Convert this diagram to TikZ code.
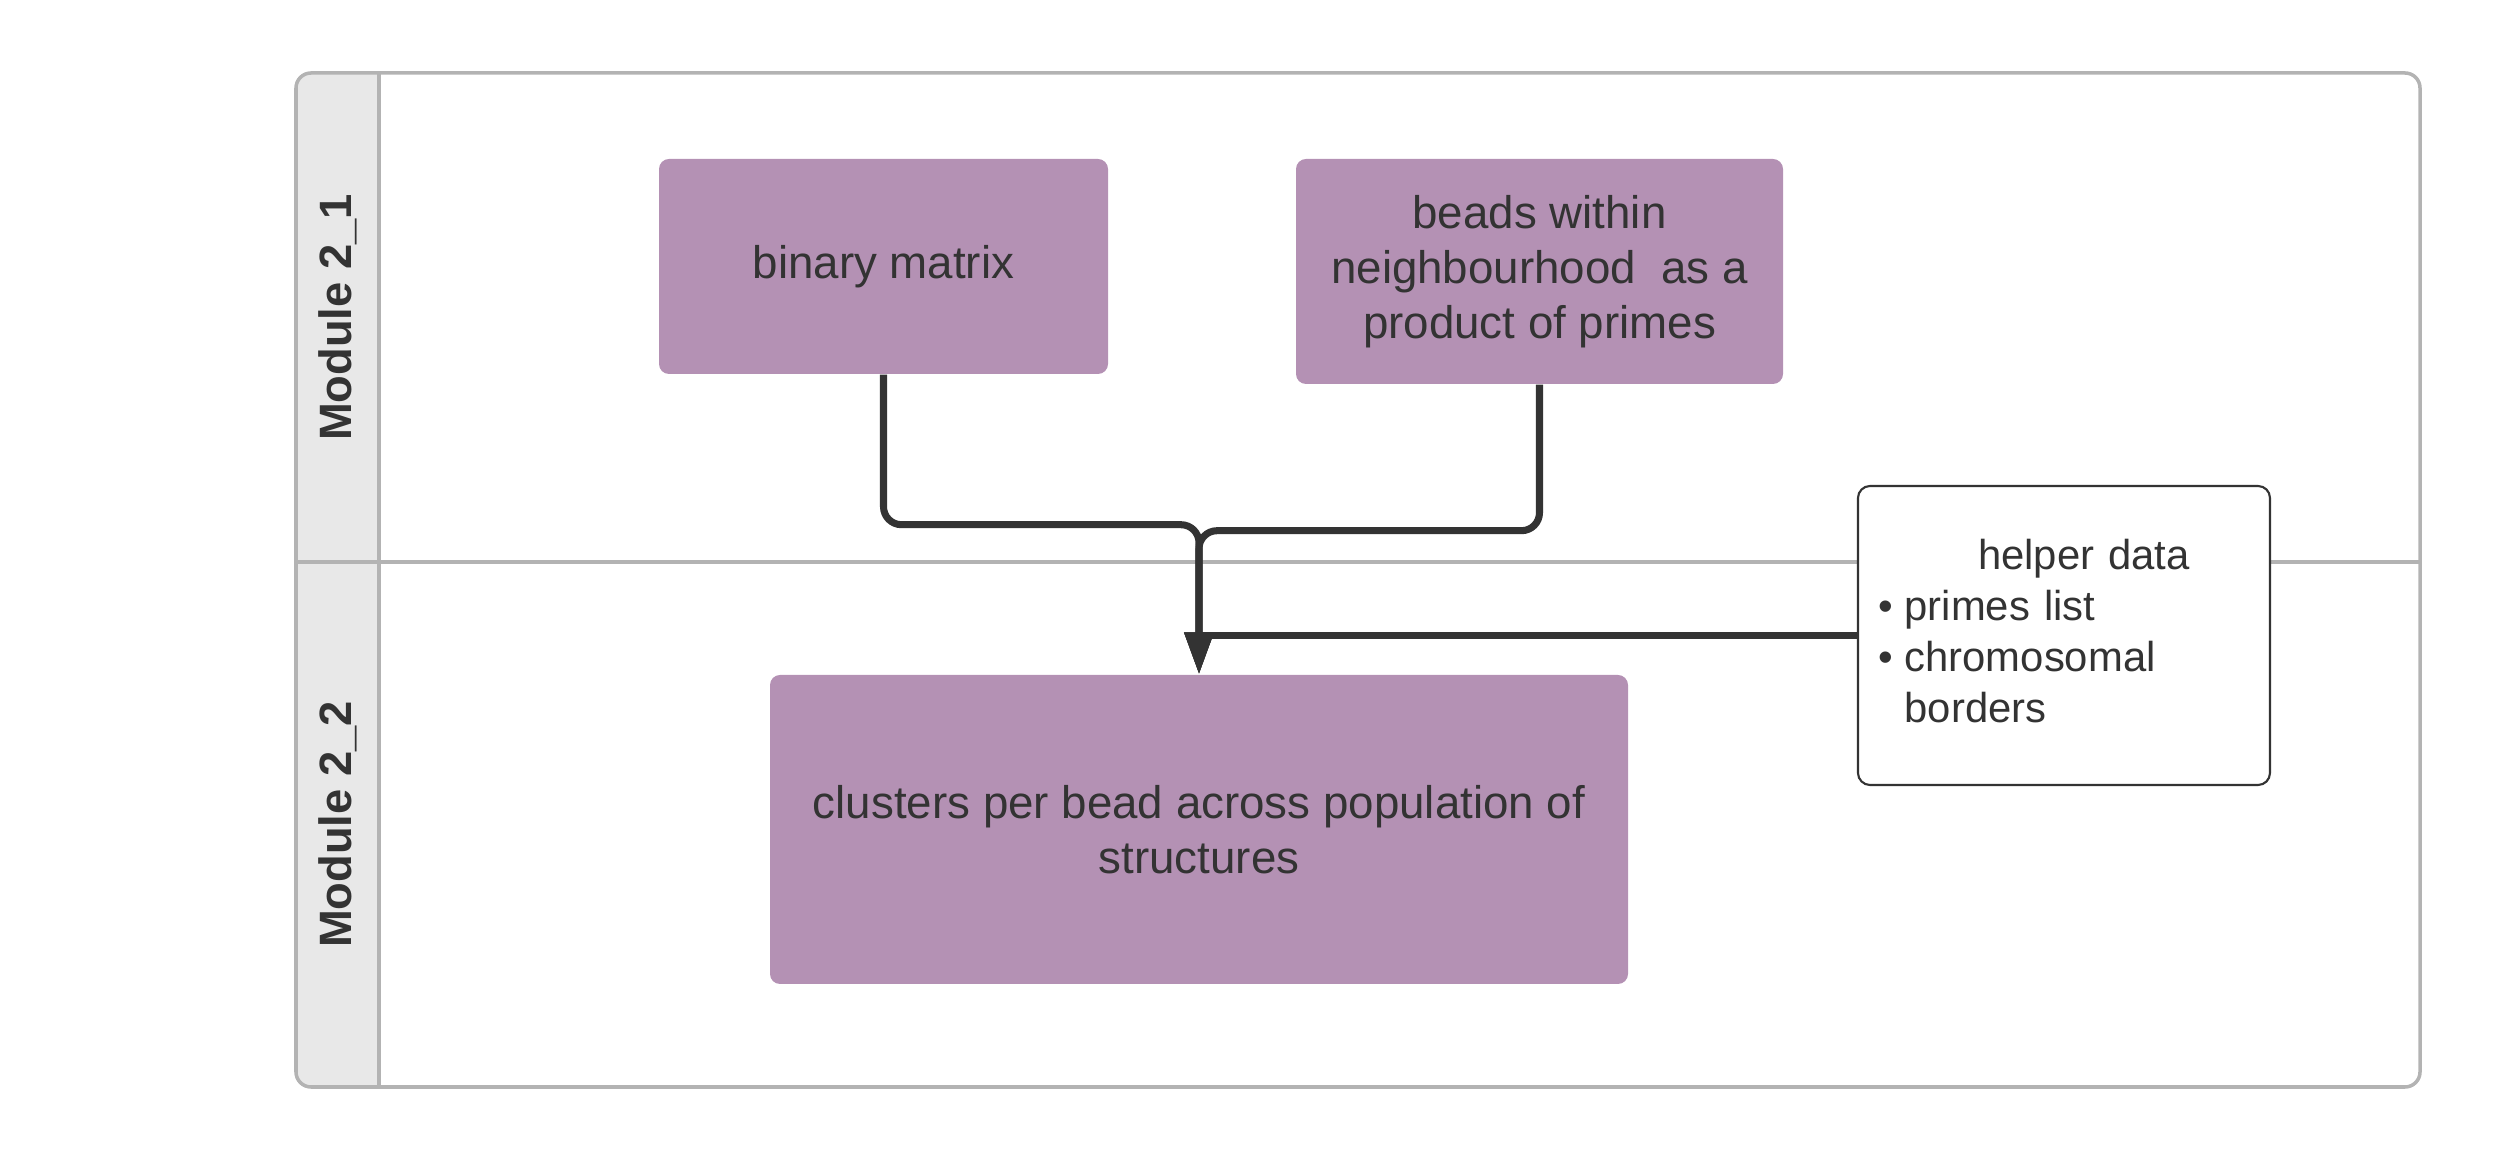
\documentclass[tikz,border=0pt]{standalone}
\usepackage{fontspec}
\setmainfont{Liberation Sans}
\usetikzlibrary{arrows.meta}
\definecolor{boxpurple}{HTML}{B491B4}
\definecolor{textgray}{HTML}{333333}
\definecolor{framegray}{HTML}{B3B3B3}
\definecolor{headgray}{HTML}{E8E8E8}

\begin{document}
\begin{tikzpicture}
        \tikzset{process/.style = {shape=rectangle,fill=boxpurple,rounded corners=0.1cm,text=textgray,align=center,inner sep=0pt,font=\fontsize{13}{15.6}\selectfont}};
        \tikzset{helper/.style = {shape=rectangle,draw=textgray,line width=0.6pt,fill=white,rounded corners=0.12cm,text=textgray,inner sep=0pt,minimum width=4.12cm,minimum height=2.99cm,text width=3.72cm,align=left,font=\fontsize{11.9}{14.5}\selectfont}};
        \tikzset{lane/.style = {rotate=90,text=textgray,font=\bfseries\fontsize{12.9}{15}\selectfont}};
        \tikzset{frame/.style = {draw=framegray,line width=1pt}};
        \tikzset{edge/.style = {draw=textgray,line width=2pt,rounded corners=0.18cm,-{Triangle[length=0.42cm,width=0.28cm]}}};
        \useasboundingbox (0,0) rectangle (24.96,11.63);
        % swimlanes
        \begin{scope}
        \clip[rounded corners=0.15cm] (2.96,0.76) rectangle (24.20,10.90);
        \fill[headgray] (2.96,0.76) rectangle (3.79,10.90);
        \end{scope}
        \draw[frame] (3.79,0.76) -- (3.79,10.90);
        \draw[frame] (2.96,6.01) -- (24.20,6.01);
        \draw[frame,rounded corners=0.15cm] (2.96,0.76) rectangle (24.20,10.90);
        \node[lane] (lane1) at (3.375,8.455) {Module 2\_1};
        \node[lane] (lane2) at (3.375,3.385) {Module 2\_2};
        % boxes
        \node[process,minimum width=4.49cm,minimum height=2.15cm] (bm) at (8.835,8.965) {binary matrix};
        \node[process,minimum width=4.87cm,minimum height=2.25cm] (beads) at (15.395,8.915) {beads within\\neighbourhood~ as a\\product of primes};
        \node[process,minimum width=8.58cm,minimum height=3.09cm] (clusters) at (11.99,3.335) {clusters per bead across population of\\structures};
        \node[helper] (helper) at (20.64,5.275) {\begin{tabular}{@{}l@{\hspace{0.12cm}}l@{}}
            \multicolumn{2}{@{}l@{}}{\hspace{1.0cm}helper data}\\
            \textbullet & primes list\\
            \textbullet & chromosomal\\
            & borders
            \end{tabular}};
        % connectors
        \draw[edge] (bm.south) -- ++(0,-1.5) -| (clusters.north);
        \draw[edge] (beads.south) -- ++(0,-1.46) -| (clusters.north);
        \draw[edge,sharp corners] (helper.west) -| (clusters.north);
    \end{tikzpicture}
\end{document}
